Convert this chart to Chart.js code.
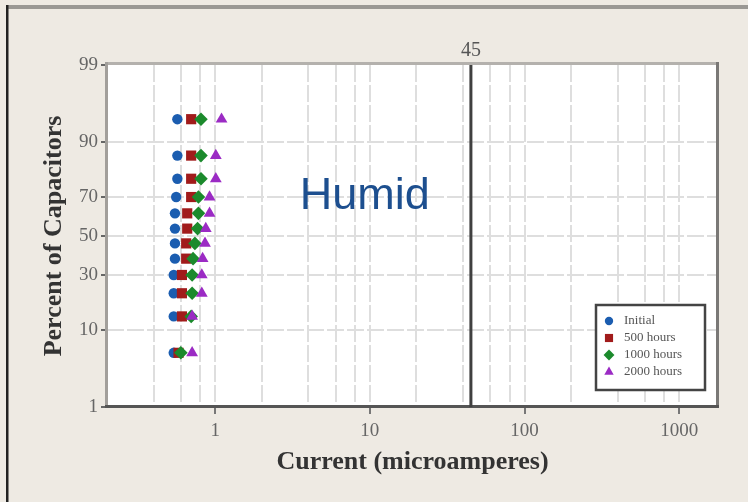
<!DOCTYPE html>
<html>
<head>
<meta charset="utf-8">
<script src="https://cdn.jsdelivr.net/npm/chart.js@4/dist/chart.umd.min.js"></script>
<style>
  html, body { margin: 0; padding: 0; background: #eeeae3; }
  #wrap { width: 748px; height: 502px; position: relative; }
</style>
</head>
<body>
<div id="wrap"><canvas id="c" width="748" height="502"></canvas></div>
<script>
// ---- data (percent of capacitors = median ranks, current in microamperes) ----
const percents   = [5.6, 13.7, 21.8, 29.8, 37.9, 46.0, 54.0, 62.1, 70.2, 78.2, 86.3, 94.4];
const initial    = [0.54, 0.54, 0.54, 0.54, 0.55, 0.55, 0.55, 0.55, 0.56, 0.57, 0.57, 0.57];
const hours500   = [0.58, 0.61, 0.61, 0.61, 0.65, 0.65, 0.66, 0.66, 0.70, 0.70, 0.70, 0.70];
const hours1000  = [0.60, 0.70, 0.71, 0.71, 0.72, 0.74, 0.77, 0.78, 0.78, 0.81, 0.81, 0.81];
const hours2000  = [0.71, 0.71, 0.82, 0.82, 0.83, 0.86, 0.87, 0.92, 0.92, 1.01, 1.01, 1.10];
const seriesNames = ['Initial', '500 hours', '1000 hours', '2000 hours'];
const yTickLabels = ['1', '10', '30', '50', '70', '90', '99'];
const xTickLabels = ['1', '10', '100', '1000'];
const xGridValues = [0.4, 0.6, 0.8, 1, 2, 4, 6, 8, 10, 20, 40, 60, 80, 100, 200, 400, 600, 800, 1000];
const refValue = 45;
const annotationText = 'Humid';

// inverse standard normal CDF (Acklam)
function normInv(p) {
  const a = [-3.969683028665376e+01, 2.209460984245205e+02, -2.759285104469687e+02, 1.383577518672690e+02, -3.066479806614716e+01, 2.506628277459239e+00];
  const b = [-5.447609879822406e+01, 1.615858368580409e+02, -1.556989798598866e+02, 6.680131188771972e+01, -1.328068155288572e+01];
  const c = [-7.784894002430293e-03, -3.223964580411365e-01, -2.400758277161838e+00, -2.549732539343734e+00, 4.374664141464968e+00, 2.938163982698783e+00];
  const d = [7.784695709041462e-03, 3.224671290700398e-01, 2.445134137142996e+00, 3.754408661907416e+00];
  const pl = 0.02425, ph = 1 - pl;
  let q, r;
  if (p < pl) { q = Math.sqrt(-2 * Math.log(p)); return (((((c[0]*q+c[1])*q+c[2])*q+c[3])*q+c[4])*q+c[5]) / ((((d[0]*q+d[1])*q+d[2])*q+d[3])*q+1); }
  if (p <= ph) { q = p - 0.5; r = q*q; return (((((a[0]*r+a[1])*r+a[2])*r+a[3])*r+a[4])*r+a[5])*q / (((((b[0]*r+b[1])*r+b[2])*r+b[3])*r+b[4])*r+1); }
  q = Math.sqrt(-2 * Math.log(1 - p)); return -(((((c[0]*q+c[1])*q+c[2])*q+c[3])*q+c[4])*q+c[5]) / ((((d[0]*q+d[1])*q+d[2])*q+d[3])*q+1);
}
const zOf = pct => normInv(pct / 100);
const zMin = zOf(+yTickLabels[0]);
const zMax = zOf(+yTickLabels[yTickLabels.length - 1]);

const styles = [
  { color: '#1b5db0', shape: 'circle',   radius: 5.2 },
  { color: '#a11b1b', shape: 'rect',     radius: 7.2 },
  { color: '#1b8a2c', shape: 'rectRot',  radius: 6.8 },
  { color: '#9b2bc4', shape: 'triangle', radius: 6.8 }
];
const allSeries = [initial, hours500, hours1000, hours2000];

const datasets = allSeries.map((vals, i) => ({
  label: seriesNames[i],
  data: vals.map((v, k) => ({ x: v, y: zOf(percents[k]) })),
  pointStyle: styles[i].shape,
  pointRadius: styles[i].radius,
  pointHoverRadius: styles[i].radius,
  backgroundColor: styles[i].color,
  borderColor: styles[i].color,
  borderWidth: 0,
  showLine: false,
  order: allSeries.length - i
}));

const SERIF = '"Liberation Serif", "DejaVu Serif", serif';
const SANS = '"Liberation Sans", Arial, sans-serif';

function drawShape(ctx, shape, x, y, r, color) {
  ctx.save();
  ctx.fillStyle = color;
  ctx.beginPath();
  if (shape === 'circle') { ctx.arc(x, y, r, 0, Math.PI * 2); }
  else if (shape === 'rect') { const s = r * Math.SQRT1_2; ctx.rect(x - s, y - s, 2 * s, 2 * s); }
  else if (shape === 'rectRot') { ctx.moveTo(x, y - r); ctx.lineTo(x + r, y); ctx.lineTo(x, y + r); ctx.lineTo(x - r, y); ctx.closePath(); }
  else if (shape === 'triangle') {
    ctx.moveTo(x, y - r); ctx.lineTo(x + r * 0.866, y + r * 0.5); ctx.lineTo(x - r * 0.866, y + r * 0.5); ctx.closePath();
  }
  ctx.fill();
  ctx.restore();
}

const framePlugin = {
  id: 'frame',
  beforeDraw(chart) {
    const { ctx, chartArea: a, width, height } = chart;
    ctx.save();
    ctx.fillStyle = '#eeeae3';
    ctx.fillRect(0, 0, width, height);
    // outer border
    ctx.fillStyle = '#9a9894';
    ctx.fillRect(7, 5, width - 7, 4);
    ctx.fillStyle = '#222222';
    ctx.fillRect(6, 5, 2.5, height - 5);
    // plot background
    ctx.fillStyle = '#ffffff';
    ctx.fillRect(a.left, a.top, a.right - a.left, a.bottom - a.top);
    ctx.restore();
  },
  afterDraw(chart) {
    const { ctx, chartArea: a, scales } = chart;
    ctx.save();
    // axis frame
    ctx.fillStyle = '#b4b1ad';
    ctx.fillRect(a.left - 2, a.top - 3, a.right - a.left + 3, 3);
    ctx.fillStyle = '#a29f9b';
    ctx.fillRect(a.left - 2, a.top - 3, 3, a.bottom - a.top + 3);
    ctx.fillStyle = '#7a7876';
    ctx.fillRect(a.right - 2, a.top - 3, 3, a.bottom - a.top + 3);
    ctx.fillStyle = '#555555';
    ctx.fillRect(a.left - 2, a.bottom - 2, a.right - a.left + 3, 3);

    // reference line
    const rx = scales.x.getPixelForValue(refValue);
    ctx.fillStyle = '#404040';
    ctx.fillRect(rx - 1.5, a.top, 3, a.bottom - a.top);
    ctx.fillStyle = '#555555';
    ctx.font = '20px ' + SERIF;
    ctx.textAlign = 'center';
    ctx.textBaseline = 'middle';
    ctx.fillText(String(refValue), rx, a.top - 14);

    // annotation
    ctx.fillStyle = '#1d4f8f';
    ctx.font = '45px ' + SANS;
    ctx.textAlign = 'center';
    ctx.textBaseline = 'middle';
    ctx.fillText(annotationText, a.left + (a.right - a.left) * 0.422, a.top + (a.bottom - a.top) * 0.386);

    // legend box
    const lx = a.right - 122, ly = a.bottom - 102, lw = 109, lh = 85;
    ctx.fillStyle = '#ffffff';
    ctx.fillRect(lx, ly, lw, lh);
    ctx.strokeStyle = '#444444';
    ctx.lineWidth = 2.5;
    ctx.strokeRect(lx, ly, lw, lh);
    ctx.font = '13px ' + SERIF;
    ctx.textAlign = 'left';
    ctx.textBaseline = 'middle';
    seriesNames.forEach((name, i) => {
      const yy = ly + 16 + i * 17;
      const st = styles[i];
      drawShape(ctx, st.shape, lx + 13, yy, st.radius * 0.8, st.color);
      ctx.fillStyle = '#555555';
      ctx.fillText(name, lx + 28, yy);
    });
    ctx.restore();
  }
};

new Chart(document.getElementById('c'), {
  type: 'scatter',
  data: { datasets },
  options: {
    responsive: false,
    animation: false,
    events: [],
    layout: { padding: { top: 65, right: 30, left: 0, bottom: 0 } },
    plugins: { legend: { display: false }, tooltip: { enabled: false } },
    scales: {
      x: {
        type: 'logarithmic',
        min: 0.2,
        max: 1780,
        afterFit(scale) { scale.height = 95; },
        afterBuildTicks(scale) { scale.ticks = xGridValues.map(v => ({ value: v })); },
        border: { display: false, dash: [17, 3] },
        grid: {
          color: '#dedede',
          lineWidth: 2,
          tickLength: 7,
          tickWidth: 2,
          tickColor: ctx => (ctx.tick && xTickLabels.includes(String(ctx.tick.value))) ? '#777777' : 'rgba(0,0,0,0)'
        },
        ticks: {
          autoSkip: false,
          maxRotation: 0,
          padding: 6,
          color: '#666666',
          font: { family: SERIF, size: 19 },
          callback: v => xTickLabels.includes(String(v)) ? String(v) : ''
        },
        title: {
          display: true,
          text: 'Current (microamperes)',
          color: '#333333',
          font: { family: SERIF, size: 26, weight: 'bold' },
          padding: { top: 0, bottom: 24 }
        }
      },
      y: {
        type: 'linear',
        min: zMin,
        max: zMax,
        afterFit(scale) { scale.width = 107; },
        afterBuildTicks(scale) { scale.ticks = yTickLabels.map(p => ({ value: zOf(+p) })); },
        border: { display: false, dash: [17, 3] },
        grid: {
          color: ctx => (ctx.index === 0 || ctx.index === yTickLabels.length - 1) ? 'rgba(0,0,0,0)' : '#dedede',
          lineWidth: 2,
          tickLength: 6,
          tickWidth: 2,
          tickColor: '#666666'
        },
        ticks: {
          autoSkip: false,
          padding: 3,
          color: '#666666',
          font: { family: SERIF, size: 19 },
          callback: (v, i) => yTickLabels[i]
        },
        title: {
          display: true,
          text: 'Percent of Capacitors',
          color: '#333333',
          font: { family: SERIF, size: 26, weight: 'bold' },
          padding: { top: 39, bottom: 0 }
        }
      }
    }
  },
  plugins: [framePlugin]
});
</script>
</body>
</html>
